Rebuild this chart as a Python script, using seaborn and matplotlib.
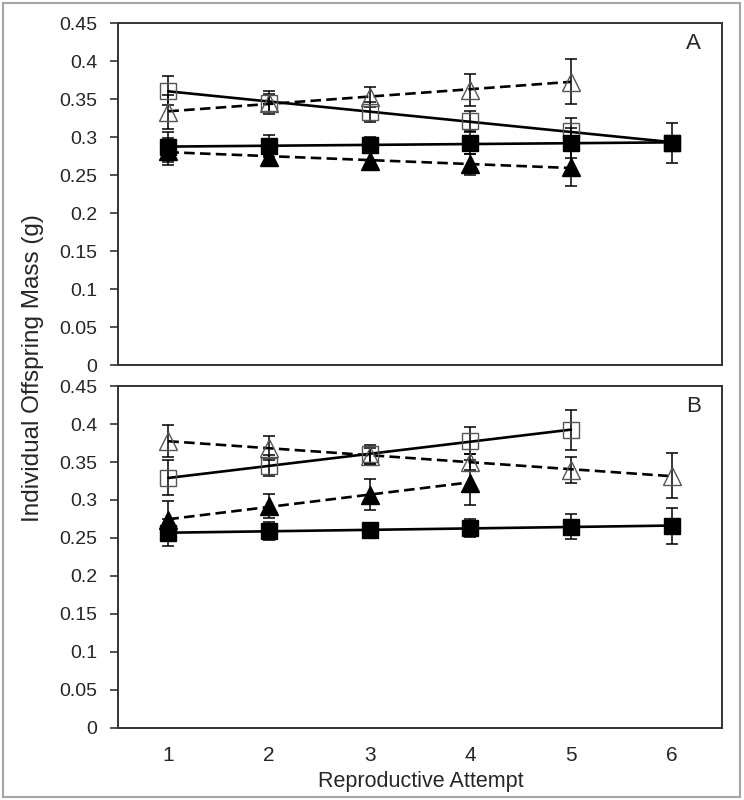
# ===============================
# Individual offspring mass vs reproductive attempt (panels A and B)
# ===============================

import numpy as np
import matplotlib.pyplot as plt
import seaborn as sns
from matplotlib.patches import Rectangle

# -------------------------------
# 1. Data
# -------------------------------

attempt = [1, 2, 3, 4, 5, 6]

# Panel A
a_open_sq = [0.361, 0.345, 0.333, 0.321, 0.308, 0.292]   # last point sits under the filled square
a_open_sq_err = [0.019, 0.015, 0.013, 0.013, 0.017, 0.0]
a_open_tri = [0.333, 0.345, 0.353, 0.362, 0.373]
a_open_tri_err = [0.022, 0.012, 0.013, 0.021, 0.029]
a_fill_sq = [0.287, 0.288, 0.290, 0.292, 0.292, 0.292]
a_fill_sq_err = [0.020, 0.014, 0.010, 0.015, 0.020, 0.026]
a_fill_tri = [0.281, 0.274, 0.269, 0.264, 0.260]
a_fill_tri_err = [0.018, 0.010, 0.010, 0.014, 0.024]

# Panel B
b_open_sq = [0.329, 0.345, 0.360, 0.378, 0.392]
b_open_sq_err = [0.023, 0.014, 0.013, 0.018, 0.026]
b_open_tri = [0.378, 0.368, 0.358, 0.350, 0.340, 0.332]
b_open_tri_err = [0.021, 0.016, 0.010, 0.011, 0.017, 0.030]
b_fill_tri = [0.274, 0.292, 0.307, 0.323]
b_fill_tri_err = [0.025, 0.016, 0.020, 0.030]
b_fill_sq = [0.257, 0.259, 0.260, 0.263, 0.265, 0.266]
b_fill_sq_err = [0.018, 0.012, 0.010, 0.012, 0.016, 0.024]

y_ticks = [0, 0.05, 0.1, 0.15, 0.2, 0.25, 0.3, 0.35, 0.4, 0.45]
y_tick_labels = ["0", "0.05", "0.1", "0.15", "0.2", "0.25", "0.3", "0.35", "0.4", "0.45"]

# -------------------------------
# 2. Style
# -------------------------------

sns.set_style("white")
plt.rcParams['font.family'] = ['Liberation Sans', 'DejaVu Sans']

DASH = (4.0, 2.0)


def draw_series(ax, y, err, marker, filled, dashed):
    x = attempt[:len(y)]
    # trend line (linear fit, like the spreadsheet trendline)
    kws = dict(color="black", lw=1.9)
    if dashed:
        kws["dashes"] = DASH
    sns.regplot(x=x, y=y, ax=ax, scatter=False, ci=None, truncate=True,
                line_kws=kws)
    ax.errorbar(x, y, yerr=err, fmt="none", ecolor="black", elinewidth=1.1,
                capsize=4, capthick=1.1, zorder=3)
    ms = 12 if marker == "s" else 12.5
    if filled:
        ax.plot(x, y, ls="none", marker=marker, ms=ms, mfc="black",
                mec="black", zorder=5)
    else:
        ax.plot(x, y, ls="none", marker=marker, ms=ms, mfc="none",
                mec="#555555", mew=1.0, zorder=4)


def style_axes(ax, label, show_x):
    ax.set_xlim(0.5, 6.5)
    ax.set_ylim(0, 0.45)
    ax.set_yticks(y_ticks)
    ax.set_yticklabels(y_tick_labels)
    ax.set_xticks(attempt)
    ax.tick_params(axis="y", direction="out", length=6, width=1.2,
                   color="#333333", labelsize=14, pad=9, left=True)
    ax.tick_params(axis="x", length=0, labelsize=15, pad=13)
    if not show_x:
        ax.set_xticklabels([])
    for sp in ax.spines.values():
        sp.set_visible(True)
        sp.set_color("#333333")
        sp.set_linewidth(1.4)
    ax.set_xlabel("")
    ax.set_ylabel("")
    ax.text(0.965, 0.94, label, transform=ax.transAxes, ha="right",
            va="center", fontsize=16)


# -------------------------------
# 3. Figure
# -------------------------------

fig = plt.figure(figsize=(7.44, 8.0), dpi=100)
ax_a = fig.add_axes([0.1586, 0.54375, 0.8118, 0.4275])
ax_b = fig.add_axes([0.1586, 0.09, 0.8118, 0.4275])

draw_series(ax_a, a_open_sq, a_open_sq_err, "s", False, False)
draw_series(ax_a, a_open_tri, a_open_tri_err, "^", False, True)
draw_series(ax_a, a_fill_tri, a_fill_tri_err, "^", True, True)
draw_series(ax_a, a_fill_sq, a_fill_sq_err, "s", True, False)
style_axes(ax_a, "A", False)

draw_series(ax_b, b_open_sq, b_open_sq_err, "s", False, False)
draw_series(ax_b, b_open_tri, b_open_tri_err, "^", False, True)
draw_series(ax_b, b_fill_tri, b_fill_tri_err, "^", True, True)
draw_series(ax_b, b_fill_sq, b_fill_sq_err, "s", True, False)
style_axes(ax_b, "B", True)

fig.text(0.045, 0.54, "Individual Offspring Mass (g)", rotation=90,
         ha="center", va="center", fontsize=17.5)
fig.text(0.565, 0.023, "Reproductive Attempt", ha="center", va="center",
         fontsize=15.5)

# grey frame round the whole picture
fig.patches.append(Rectangle((0.004, 0.004), 0.991, 0.992,
                             transform=fig.transFigure, fill=False,
                             edgecolor="#a6a6a6", lw=1.5))

plt.savefig("out.png", dpi=100)
